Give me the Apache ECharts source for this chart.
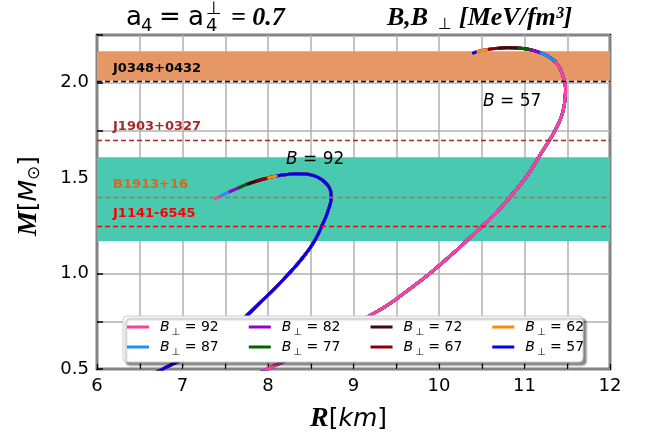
<!DOCTYPE html>
<html>
<head>
<meta charset="utf-8">
<script src="https://cdn.jsdelivr.net/npm/echarts@6/dist/echarts.min.js"></script>
<style>
  html, body { margin: 0; padding: 0; background: #fff; }
  #chart { width: 645px; height: 436px; }
</style>
</head>
<body>
<div id="chart"></div>
<script>
// Perpendicular bag constants (MeV/fm^3), one line colour each
const bPerpValues = [92, 87, 82, 77, 72, 67, 62, 57];
const bPerpColors = ['#ff3f9f', '#1e90ff', '#9400d3', '#006400', '#3b0a0a', '#8b0000', '#ff8c00', '#0000ff'];

// Mass-radius sequence for B = 92, [R (km), M (Msun)]
const curveB92 = [
  [7.37, 1.390], [7.44, 1.405], [7.54, 1.427], [7.65, 1.448], [7.75, 1.467], [7.86, 1.484],
  [7.99, 1.500], [8.11, 1.512], [8.22, 1.519], [8.32, 1.523], [8.42, 1.522], [8.51, 1.516],
  [8.59, 1.503], [8.65, 1.485], [8.70, 1.462], [8.73, 1.437], [8.74, 1.411], [8.735, 1.380],
  [8.71, 1.340], [8.68, 1.300], [8.63, 1.250], [8.58, 1.200], [8.515, 1.150], [8.435, 1.100],
  [8.345, 1.050], [8.245, 1.000], [8.14, 0.950], [8.03, 0.900], [7.89, 0.840], [7.75, 0.780],
  [7.52, 0.700], [7.20, 0.600], [6.86, 0.520], [6.68, 0.480]
];
// index in curveB92 where each B_perp branch begins (same order as bPerpValues)
const startB92 = [0, 1, 2, 3, 4, 5, 6, 7];

// Mass-radius sequence for B = 57
const curveB57 = [
  [10.39, 2.152], [10.44, 2.162], [10.57, 2.174], [10.69, 2.180], [10.80, 2.183], [10.92, 2.182],
  [11.06, 2.174], [11.18, 2.158], [11.28, 2.137], [11.36, 2.110], [11.42, 2.070], [11.46, 2.020],
  [11.48, 1.970], [11.475, 1.920], [11.46, 1.870], [11.43, 1.820], [11.38, 1.770], [11.32, 1.720],
  [11.25, 1.670], [11.18, 1.620], [11.10, 1.560], [11.01, 1.500], [10.83, 1.400], [10.63, 1.300],
  [10.51, 1.250], [10.32, 1.170], [10.15, 1.100], [9.89, 1.000], [9.60, 0.900], [9.40, 0.835],
  [9.18, 0.777], [8.88, 0.700], [8.46, 0.600], [8.09, 0.520], [7.90, 0.480]
];
const startB57 = [9, 7, 6, 5, 3, 2, 1, 0];

// Observed pulsar masses (dashed lines) and mass bands
const pulsarNames = ['J0348+0432', 'J1903+0327', 'B1913+16', 'J1141-6545'];
const pulsarMasses = [2.01, 1.70, 1.40, 1.25];
const pulsarColors = ['#000000', '#a52a2a', '#d2691e', '#ff0000'];
const bandHigh = [2.01, 2.165];
const bandLow = [1.17, 1.61];

const xTicks = [6, 7, 8, 9, 10, 11, 12];
const yTicks = [0.5, 1.0, 1.5, 2.0];

const chart = echarts.init(document.getElementById('chart'), null, { renderer: 'canvas' });

function legendLabel(v) { return '{b|B}{s|⊥}{n| = ' + v + '}'; }
const nameOf = v => 'Bp' + v;

const series = [];
// bands beneath the grid lines
series.push({
  type: 'line', data: [], z: -1, silent: true,
  markArea: {
    silent: true,
    data: [
      [{ yAxis: bandHigh[0], itemStyle: { color: '#e59866' } }, { yAxis: bandHigh[1] }],
      [{ yAxis: bandLow[0], itemStyle: { color: '#48c9b0' } }, { yAxis: bandLow[1] }]
    ]
  }
});
// dashed pulsar mass lines
series.push({
  type: 'line', data: [], z: 1, silent: true,
  markLine: {
    silent: true, symbol: 'none', label: { show: false },
    data: pulsarMasses.map((m, i) => ({
      yAxis: m,
      lineStyle: { color: pulsarColors[i], type: [5, 3], width: 1.4 }
    }))
  }
});

function addCurve(curve, starts, order) {
  order.forEach(k => {
    series.push({
      name: nameOf(bPerpValues[k]),
      type: 'line',
      data: curve.slice(starts[k]),
      symbol: 'none',
      smooth: 0.5,
      z: 3,
      lineStyle: { color: bPerpColors[k], width: 3 },
      itemStyle: { color: bPerpColors[k] }
    });
  });
}
// B = 92: longest branch (B_perp = 92) drawn first
addCurve(curveB92, startB92, [0, 1, 2, 3, 4, 5, 6, 7]);
// B = 57: longest branch (B_perp = 57) drawn first
addCurve(curveB57, startB57, [7, 6, 5, 4, 3, 2, 1, 0]);

const legendRich = {
  b: { fontFamily: 'DejaVu Sans', fontStyle: 'italic', fontSize: 14, lineHeight: 20, color: '#000' },
  s: { fontFamily: 'DejaVu Sans', fontSize: 10, lineHeight: 12, verticalAlign: 'bottom', color: '#000', padding: [0, 0, 0, 2] },
  n: { fontFamily: 'DejaVu Sans', fontSize: 14, lineHeight: 20, color: '#000' }
};
function makeLegend(vals, top) {
  return {
    data: vals.map(nameOf),
    left: 127, top: top, orient: 'horizontal',
    itemWidth: 22, itemHeight: 3, itemGap: 30, z: 60,
    padding: 0,
    icon: 'rect',
    formatter: n => legendLabel(n.slice(2)),
    textStyle: { width: 62, padding: [0, 0, 0, 6], rich: legendRich }
  };
}

function txt(x, y, text, font, size, extra) {
  return {
    type: 'text', x: x, y: y, z: 70, silent: true,
    style: Object.assign({ text: text, fontFamily: font, fontSize: size, fill: '#000', align: 'left', verticalAlign: 'middle' }, extra || {})
  };
}
const SERIF_BI = { fontStyle: 'italic', fontWeight: 'bold' };

const option = {
  animation: false,
  backgroundColor: '#fff',
  grid: { left: 97, right: 35, top: 35, bottom: 67, show: true, borderColor: '#000', borderWidth: 2.5, backgroundColor: 'transparent' },
  xAxis: {
    type: 'value', min: 6, max: 12, interval: 0.5,
    axisLine: { show: false },
    axisTick: { show: true, inside: true, length: 5, lineStyle: { color: '#000', width: 1.2 } },
    splitLine: { show: true, lineStyle: { color: '#b0b0b0', width: 1.5 } },
    axisLabel: {
      fontFamily: 'DejaVu Sans', fontSize: 18, color: '#000', margin: 8,
      formatter: v => (xTicks.includes(v) ? String(v) : '')
    }
  },
  yAxis: {
    type: 'value', min: 0.5, max: 2.25, interval: 0.25,
    axisLine: { show: false },
    axisTick: { show: true, inside: true, length: 6, lineStyle: { color: '#000', width: 1.5 } },
    splitLine: { show: true, lineStyle: { color: '#b0b0b0', width: 1.5 } },
    axisLabel: {
      fontFamily: 'DejaVu Sans', fontSize: 18, color: '#000', margin: 8,
      formatter: v => (yTicks.some(t => Math.abs(t - v) < 1e-9) ? v.toFixed(1) : '')
    }
  },
  legend: [
    makeLegend([92, 82, 72, 62], 320),
    makeLegend([87, 77, 67, 57], 340)
  ],
  series: series,
  graphic: [
    // legend frame with drop shadow
    {
      type: 'rect', z: 50, silent: true,
      shape: { x: 123, y: 316, width: 460, height: 46, r: 4 },
      style: { fill: '#fff', stroke: '#cccccc', lineWidth: 1, shadowColor: 'rgba(0,0,0,0.45)', shadowOffsetX: 3, shadowOffsetY: 3, shadowBlur: 2 }
    },
    // left title: a_4 = a_4^perp = 0.7
    txt(126, 18, 'a', 'DejaVu Sans', 26),
    txt(141, 26, '4', 'DejaVu Sans', 18),
    txt(159, 18, '=', 'DejaVu Sans', 26),
    txt(188, 18, 'a', 'DejaVu Sans', 26),
    txt(206, 9, '⊥', 'DejaVu Sans', 18),
    txt(206, 26, '4', 'DejaVu Sans', 18),
    txt(231, 18, '= 0.7', 'Liberation Serif', 26, SERIF_BI),
    // right title: B, B_perp [MeV/fm^3]
    txt(387, 18, 'B,B', 'Liberation Serif', 26, SERIF_BI),
    txt(438, 25, '⊥', 'DejaVu Sans', 16),
    txt(459, 18, '[MeV/fm³]', 'Liberation Serif', 26, SERIF_BI),
    // axis titles
    {
      type: 'text', left: 310, top: 405, z: 70,
      style: {
        text: '{r|R}{k|[}{i|km}{k|]}',
        rich: {
          r: { fontFamily: 'Liberation Serif', fontStyle: 'italic', fontWeight: 'bold', fontSize: 28, fill: '#000' },
          k: { fontFamily: 'DejaVu Sans', fontSize: 25, fill: '#000' },
          i: { fontFamily: 'DejaVu Sans', fontStyle: 'italic', fontSize: 25, fill: '#000' }
        }
      }
    },
    {
      type: 'text', x: 29, y: 196, rotation: Math.PI / 2, z: 70,
      style: {
        text: '{m|M}{k|[}{i|M}{o|⊙}{k|]}',
        align: 'center', verticalAlign: 'middle',
        rich: {
          m: { fontFamily: 'Liberation Serif', fontStyle: 'italic', fontWeight: 'bold', fontSize: 28, fill: '#000' },
          k: { fontFamily: 'DejaVu Sans', fontSize: 25, fill: '#000' },
          i: { fontFamily: 'DejaVu Sans', fontStyle: 'italic', fontSize: 25, fill: '#000' },
          o: { fontFamily: 'DejaVu Sans', fontSize: 17, lineHeight: 24, verticalAlign: 'bottom', fill: '#000' }
        }
      }
    },
    // curve annotations
    {
      type: 'text', left: 483, top: 93, z: 70,
      style: { text: '{b|B}{n| = 57}', rich: {
        b: { fontFamily: 'DejaVu Sans', fontStyle: 'italic', fontSize: 17, fill: '#000' },
        n: { fontFamily: 'DejaVu Sans', fontSize: 17, fill: '#000' } } }
    },
    {
      type: 'text', left: 286, top: 151, z: 70,
      style: { text: '{b|B}{n| = 92}', rich: {
        b: { fontFamily: 'DejaVu Sans', fontStyle: 'italic', fontSize: 17, fill: '#000' },
        n: { fontFamily: 'DejaVu Sans', fontSize: 17, fill: '#000' } } }
    }
  ].concat(pulsarNames.map((n, i) => ({
    type: 'text', left: 113, top: [62, 120, 178, 207][i], z: 70,
    style: { text: n, fontFamily: 'DejaVu Sans', fontWeight: 'bold', fontSize: 13, fill: pulsarColors[i] }
  })))
};

chart.setOption(option);
</script>
</body>
</html>
